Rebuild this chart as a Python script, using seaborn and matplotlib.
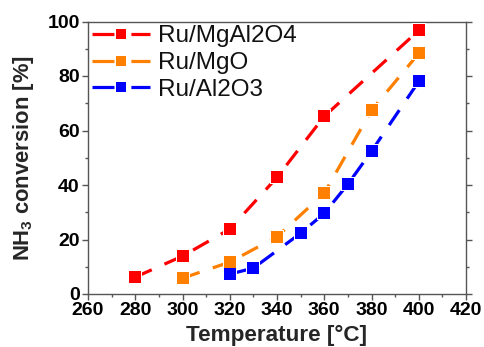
import matplotlib
matplotlib.use("Agg")
import matplotlib.pyplot as plt
import seaborn as sns
import pandas as pd
from matplotlib.ticker import MultipleLocator
from matplotlib.lines import Line2D

sns.set_style("white")
plt.rcParams['font.family'] = ['Liberation Sans', 'DejaVu Sans']
plt.rcParams['mathtext.fontset'] = 'custom'
plt.rcParams['mathtext.bf'] = 'Liberation Sans:bold'
plt.rcParams['mathtext.rm'] = 'Liberation Sans:bold'
plt.rcParams['lines.scale_dashes'] = False

t_mgal = [280, 300, 320, 340, 360, 400]
v_mgal = [6.2, 13.9, 23.8, 42.8, 65.2, 96.7]
t_mgo = [300, 320, 340, 360, 380, 400]
v_mgo = [5.8, 11.7, 21.0, 37.0, 67.4, 88.3]
t_al = [320, 330, 350, 360, 370, 380, 400]
v_al = [7.3, 9.5, 22.3, 29.6, 40.3, 52.4, 78.0]
labels = ["Ru/MgAl2O4", "Ru/MgO", "Ru/Al2O3"]
colors = ["#ff0000", "#ff8000", "#0000ff"]

fig = plt.figure(figsize=(4.84, 3.47), dpi=100)
ax = fig.add_axes([88/484, 1-294/347, (466-88)/484, (294-21.5)/347])

dash = (0, (13, 10))
handles = []
for t, v, lab, c in zip([t_mgal, t_mgo, t_al], [v_mgal, v_mgo, v_al], labels, colors):
    df = pd.DataFrame({"T": t, "X": v})
    sns.lineplot(data=df, x="T", y="X", ax=ax, color=c, linewidth=2.3,
                 linestyle=dash, zorder=2)
    sns.scatterplot(data=df, x="T", y="X", ax=ax, color="white", marker="s",
                    s=110, linewidth=0, zorder=3)
    sns.scatterplot(data=df, x="T", y="X", ax=ax, color=c, marker="s",
                    s=78, linewidth=0, zorder=4)
    handles.append(Line2D([], [], color=c, linewidth=2.3, linestyle=(0, (15.8, 12.2)),
                          marker="s", markersize=6.8, markeredgewidth=0, label=lab))

ax.set_xlim(260, 420)
ax.set_ylim(0, 100)
ax.xaxis.set_major_locator(MultipleLocator(20))
ax.xaxis.set_minor_locator(MultipleLocator(10))
ax.yaxis.set_major_locator(MultipleLocator(20))
ax.yaxis.set_minor_locator(MultipleLocator(10))
ax.tick_params(axis='both', which='both', direction='out', bottom=True, left=True,
               top=False, labelsize=14, color='#555555', labelcolor='black', pad=2)
ax.tick_params(axis='y', which='both', right=True, labelright=False)
ax.tick_params(which='major', length=4, width=1)
ax.tick_params(which='minor', length=2.5, width=1)
for lab in ax.get_xticklabels() + ax.get_yticklabels():
    lab.set_fontweight('bold')
for s in ax.spines.values():
    s.set_color('#555555')
    s.set_linewidth(1)

ax.set_xlabel("Temperature [°C]", fontsize=16.2, fontweight='bold', labelpad=4)
ax.set_ylabel(r"NH$_\mathbf{3}$ conversion [%]", fontsize=15.8, fontweight='bold', labelpad=8)

leg = ax.legend(handles=handles, loc='upper left', frameon=False, fontsize=17.5,
                handlelength=2.4, borderaxespad=0.1, labelspacing=0.2,
                handletextpad=0.35, borderpad=0.05)
for txt in leg.get_texts():
    txt.set_color('#111111')

fig.savefig("out.png", dpi=100)
